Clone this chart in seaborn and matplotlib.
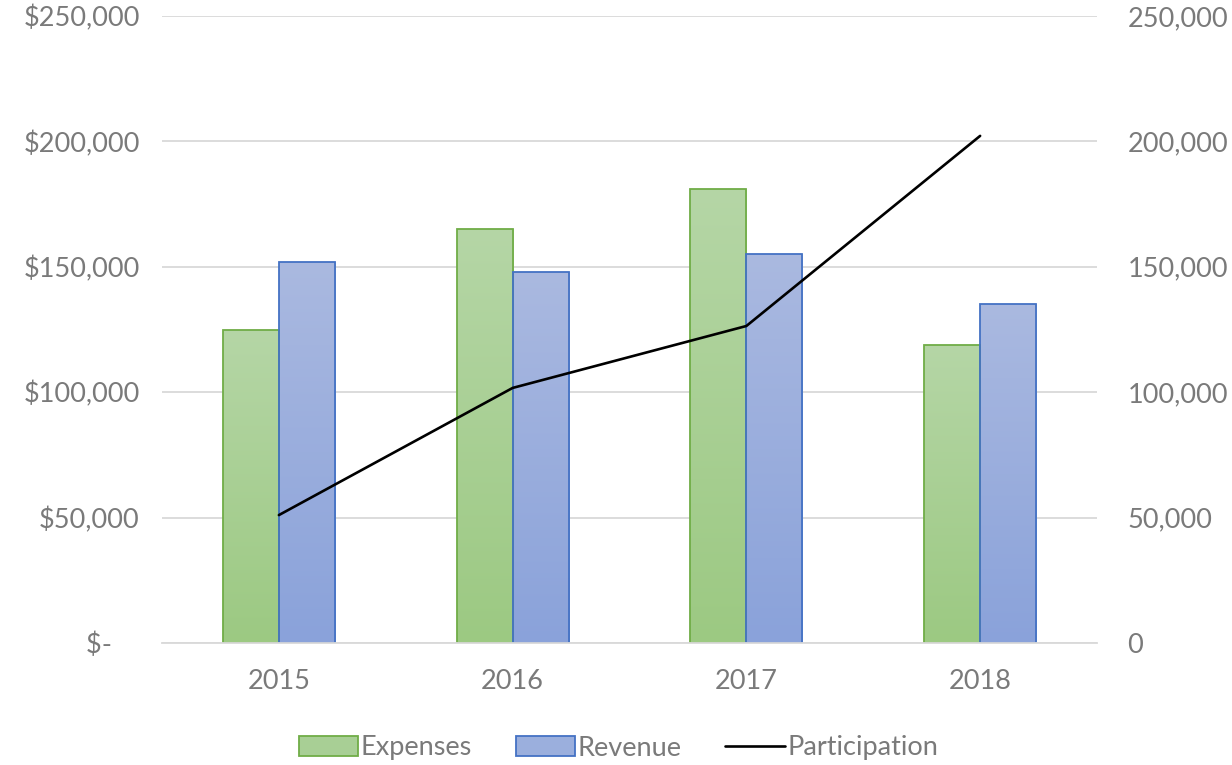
import numpy as np
import pandas as pd
import matplotlib
matplotlib.use("Agg")
import matplotlib.pyplot as plt
import seaborn as sns
from matplotlib.patches import Patch
from matplotlib.lines import Line2D
from matplotlib.colors import LinearSegmentedColormap

years = ["2015", "2016", "2017", "2018"]
expenses = [125000, 165000, 181000, 119000]
revenue = [152000, 148000, 155000, 135000]
participation = [51000, 101700, 126400, 202200]

left_ticks = [0, 50000, 100000, 150000, 200000, 250000]
left_labels = ["$-    ", "$50,000", "$100,000", "$150,000", "$200,000", "$250,000"]
right_labels = ["0", "50,000", "100,000", "150,000", "200,000", "250,000"]

df = pd.DataFrame({
    "Year": years * 2,
    "Series": ["Expenses"] * 4 + ["Revenue"] * 4,
    "Value": expenses + revenue,
})

sns.set_style("white")
plt.rcParams["font.family"] = ["Lato", "DejaVu Sans"]

grey_txt = "#7a7a7a"
fs = 19.5
green_edge, blue_edge = "#70ad47", "#4472c4"
green_top, green_bot = "#b5d6a6", "#9cc982"
blue_top, blue_bot = "#aab9e0", "#8aa2da"

fig = plt.figure(figsize=(12.32, 7.65), dpi=100)
ax = fig.add_axes([162 / 1232, 1 - 643 / 765, (1097 - 162) / 1232, (643 - 16) / 765])

sns.barplot(data=df, x="Year", y="Value", hue="Series", hue_order=["Expenses", "Revenue"],
            palette=[green_bot, blue_bot], width=0.48, gap=0, ax=ax, legend=False,
            linewidth=1.3, saturation=1)

# gradient fill and edge color per bar
cmaps = {
    "Expenses": LinearSegmentedColormap.from_list("g", [green_bot, green_top]),
    "Revenue": LinearSegmentedColormap.from_list("b", [blue_bot, blue_top]),
}
grad = np.linspace(0, 1, 256).reshape(-1, 1)
for i, p in enumerate(ax.patches):
    series = "Expenses" if i < len(years) else "Revenue"
    p.set_edgecolor(green_edge if series == "Expenses" else blue_edge)
    x0, y0, w, h = p.get_x(), p.get_y(), p.get_width(), p.get_height()
    im = ax.imshow(grad, cmap=cmaps[series], origin="lower", aspect="auto",
                   extent=[x0, x0 + w, y0, y0 + h], zorder=p.get_zorder() - 0.1)
    im.set_clip_path(p)
    p.set_facecolor("none")

ax.set_xlim(-0.5, 3.5)
ax.set_ylim(0, 250000)
ax.set_yticks(left_ticks)
ax.set_yticklabels(left_labels)
ax.yaxis.grid(True, color="#d9d9d9", linewidth=1.3)
ax.set_axisbelow(True)
ax.set_xlabel("")
ax.set_ylabel("")
for s in ["top", "right", "left"]:
    ax.spines[s].set_visible(False)
ax.spines["bottom"].set_color("#d9d9d9")
ax.spines["bottom"].set_linewidth(1.3)
ax.tick_params(axis="both", length=0, labelsize=fs, labelcolor=grey_txt)
ax.tick_params(axis="y", pad=16)
ax.tick_params(axis="x", pad=19)

ax2 = ax.twinx()
sns.lineplot(x=list(range(len(years))), y=participation, color="black", linewidth=1.9, ax=ax2)
ax2.set_ylim(0, 250000)
ax2.set_yticks(left_ticks)
ax2.set_yticklabels(right_labels)
for s in ["top", "right", "left", "bottom"]:
    ax2.spines[s].set_visible(False)
ax2.tick_params(axis="y", length=0, labelsize=fs, labelcolor=grey_txt, pad=22)

handles = [
    Patch(facecolor="#a8cf95", edgecolor=green_edge, linewidth=1.3),
    Patch(facecolor="#9bafdd", edgecolor=blue_edge, linewidth=1.3),
    Line2D([0], [0], color="black", linewidth=1.9),
]
leg = fig.legend(handles, ["Expenses", "Revenue", "Participation"], loc="center",
                 bbox_to_anchor=(0.502, 1 - 748 / 765), ncol=3, frameon=False,
                 fontsize=fs, handlelength=2.2, handleheight=0.75,
                 handletextpad=0.1, columnspacing=1.6)
for t in leg.get_texts():
    t.set_color(grey_txt)

fig.savefig("out.png", dpi=100)
